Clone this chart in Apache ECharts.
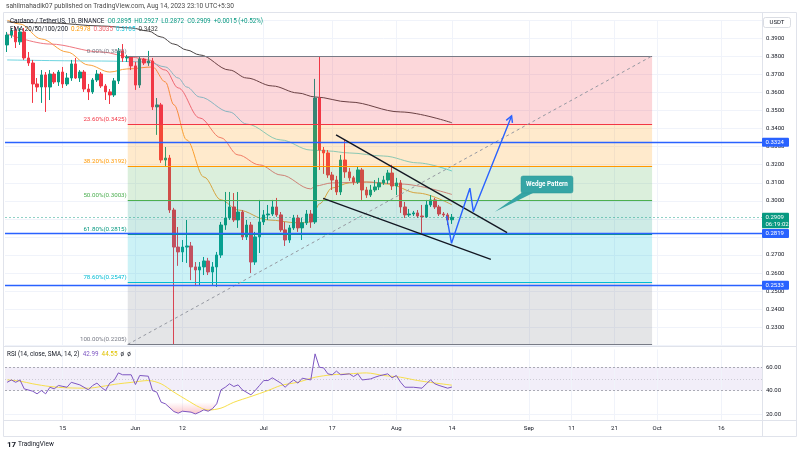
<!DOCTYPE html>
<html><head><meta charset="utf-8">
<script src="https://cdn.jsdelivr.net/npm/echarts/dist/echarts.min.js"></script>
<style>html,body{margin:0;padding:0;background:#fff}#c{width:800px;height:453px}</style>
</head><body><div id="c"></div>
<script>
// ---------- DATA ----------
const startDay = [2023, 4, 2];          // 2023-05-02 (first candle)
const dayCount = 177;                   // visible days on the time axis
const tickDates = ['2023-05-15','2023-06-01','2023-06-12','2023-07-01','2023-07-17','2023-08-01','2023-08-14','2023-09-01','2023-09-11','2023-09-21','2023-10-01','2023-10-16'];
const tickLabels = ['15','Jun','12','Jul','17','Aug','14','Sep','11','21','Oct','16'];

// daily candles [open, high, low, close] from 2023-05-02 to 2023-08-14
const candles = [
 [0.3863,0.3935,0.3824,0.3918],[0.3918,0.3957,0.3902,0.3940],[0.3940,0.3963,0.3846,0.3880],[0.3880,0.3957,0.3863,0.3935],
 [0.3935,0.3957,0.3780,0.3791],[0.3791,0.3824,0.3747,0.3763],[0.3763,0.3780,0.3542,0.3647],[0.3647,0.3680,0.3603,0.3630],
 [0.3630,0.3724,0.3542,0.3697],[0.3697,0.3713,0.3492,0.3630],[0.3630,0.3724,0.3558,0.3702],[0.3702,0.3713,0.3647,0.3658],
 [0.3658,0.3724,0.3636,0.3713],[0.3713,0.3741,0.3625,0.3647],[0.3647,0.3708,0.3636,0.3680],[0.3680,0.3780,0.3664,0.3758],
 [0.3758,0.3791,0.3675,0.3680],[0.3680,0.3724,0.3658,0.3713],[0.3713,0.3724,0.3603,0.3619],[0.3619,0.3647,0.3558,0.3603],
 [0.3603,0.3680,0.3592,0.3669],[0.3669,0.3724,0.3658,0.3702],[0.3702,0.3713,0.3625,0.3636],[0.3636,0.3647,0.3558,0.3603],
 [0.3603,0.3619,0.3536,0.3586],[0.3586,0.3680,0.3575,0.3664],[0.3664,0.3846,0.3647,0.3830],[0.3830,0.3868,0.3769,0.3791],
 [0.3791,0.3808,0.3769,0.3796],[0.3796,0.3802,0.3724,0.3747],
 // June
 [0.3747,0.3769,0.3614,0.3641],[0.3641,0.3796,0.3625,0.3785],[0.3785,0.3791,0.3752,0.3763],[0.3763,0.3830,0.3747,0.3774],
 [0.3774,0.3791,0.3503,0.3520],[0.3520,0.3569,0.3365,0.3531],[0.3531,0.3542,0.3210,0.3226],[0.3226,0.3298,0.3188,0.3237],
 [0.3237,0.3254,0.2933,0.2949],[0.2949,0.2961,0.2205,0.2744],[0.2744,0.2855,0.2640,0.2717],[0.2717,0.2783,0.2661,0.2744],
 [0.2744,0.2894,0.2656,0.2750],[0.2750,0.2772,0.2561,0.2634],[0.2634,0.2661,0.2528,0.2617],[0.2617,0.2661,0.2528,0.2634],
 [0.2634,0.2689,0.2589,0.2667],[0.2667,0.2684,0.2589,0.2606],[0.2606,0.2661,0.2534,0.2634],[0.2634,0.2717,0.2523,0.2700],
 [0.2700,0.2883,0.2684,0.2866],[0.2866,0.3049,0.2839,0.2905],[0.2905,0.3049,0.2894,0.2966],[0.2966,0.3043,0.2883,0.2894],
 [0.2894,0.3049,0.2850,0.2938],[0.2938,0.2949,0.2783,0.2800],[0.2800,0.2894,0.2783,0.2866],[0.2866,0.2883,0.2600,0.2661],
 [0.2661,0.2828,0.2645,0.2800],[0.2800,0.3005,0.2711,0.2883],
 // July
 [0.2883,0.2949,0.2866,0.2922],[0.2922,0.2977,0.2894,0.2927],[0.2927,0.3005,0.2916,0.2966],[0.2966,0.3016,0.2911,0.2922],
 [0.2922,0.2938,0.2828,0.2839],[0.2839,0.2883,0.2750,0.2783],[0.2783,0.2866,0.2767,0.2850],[0.2850,0.2922,0.2839,0.2905],
 [0.2905,0.2922,0.2828,0.2850],[0.2850,0.2905,0.2783,0.2878],[0.2878,0.2949,0.2866,0.2927],[0.2927,0.2949,0.2850,0.2883],
 [0.2883,0.3675,0.2872,0.3569],[0.3569,0.3796,0.3171,0.3281],[0.3281,0.3298,0.3149,0.3265],[0.3265,0.3281,0.3127,0.3143],
 [0.3143,0.3160,0.3060,0.3115],[0.3115,0.3138,0.3032,0.3049],[0.3049,0.3254,0.3032,0.3226],[0.3226,0.3337,0.3127,0.3160],
 [0.3160,0.3182,0.3110,0.3127],[0.3127,0.3138,0.3088,0.3104],[0.3104,0.3188,0.3093,0.3171],[0.3171,0.3182,0.3005,0.3060],
 [0.3060,0.3077,0.3016,0.3032],[0.3032,0.3088,0.3021,0.3060],[0.3060,0.3115,0.3049,0.3077],[0.3077,0.3127,0.3060,0.3099],
 [0.3099,0.3138,0.3088,0.3115],[0.3115,0.3171,0.3093,0.3154],[0.3154,0.3199,0.3060,0.3082],
 // August
 [0.3082,0.3127,0.3032,0.3099],[0.3099,0.3115,0.2933,0.2966],[0.2966,0.2994,0.2905,0.2922],[0.2922,0.2955,0.2911,0.2927],
 [0.2927,0.2944,0.2916,0.2933],[0.2933,0.2949,0.2905,0.2916],[0.2916,0.2977,0.2822,0.2911],[0.2911,0.3005,0.2905,0.2977],
 [0.2977,0.3032,0.2966,0.3005],[0.3005,0.3016,0.2955,0.2966],[0.2966,0.2977,0.2916,0.2927],[0.2927,0.2938,0.2911,0.2922],
 [0.2922,0.2933,0.2866,0.2894],[0.2895,0.2927,0.2872,0.2909]
];

// EMA readings [dayIndex, value]
const ema20 = [[0,0.4001],[3,0.3979],[8,0.3896],[14,0.3824],[19,0.3752],[24,0.3713],[28,0.3730],[34,0.3741],[37,0.3658],[39,0.3531],[42,0.3337],[46,0.3132],[50,0.3005],[54,0.2949],[61,0.2894],[68,0.2878],[71,0.2883],[72,0.2949],[73,0.2983],[76,0.3071],[80,0.3099],[84,0.3104],[89,0.3093],[96,0.3043],[104,0.2978]];
const ema50 = [[0,0.3924],[10,0.3868],[22,0.3824],[29,0.3796],[33,0.3780],[37,0.3724],[40,0.3625],[45,0.3459],[50,0.3349],[54,0.3254],[59,0.3199],[64,0.3143],[71,0.3066],[72,0.3082],[76,0.3099],[84,0.3104],[92,0.3093],[104,0.3035]];
const ema100 = [[0,0.3780],[22,0.3774],[33,0.3769],[37,0.3741],[40,0.3680],[42,0.3630],[45,0.3575],[52,0.3492],[56,0.3425],[64,0.3337],[71,0.3281],[75,0.3276],[80,0.3265],[88,0.3248],[96,0.3210],[104,0.3165]];
const ema200 = [[0,0.3990],[10,0.3985],[22,0.3968],[29,0.3957],[33,0.3940],[36,0.3907],[39,0.3868],[42,0.3835],[45,0.3808],[52,0.3724],[56,0.3680],[62,0.3636],[68,0.3597],[72,0.3575],[80,0.3547],[92,0.3492],[104,0.3432]];

// RSI readings [dayIndex, value]
const rsi = [[0,47],[1,49],[2,47],[3,49],[4,41.4],[6,39.4],[7,37.2],[8,40],[9,37.2],[10,42.8],[11,41.4],[12,44.3],[14,42.8],[15,47],[17,44.8],[19,40.6],[20,44.3],[21,46.3],[22,42.8],[23,40],[24,46.3],[25,48.5],[26,55],[27,53.4],[29,53.4],[30,45.1],[31,52.8],[33,52.2],[34,40],[35,38.6],[36,30.1],[37,28.7],[39,22.1],[40,20.7],[41,22.4],[43,21.6],[44,20.1],[45,21.6],[46,23.6],[47,22.4],[48,24.5],[49,28.7],[50,40.6],[51,42.8],[52,45.7],[53,43.4],[54,44.8],[55,40.6],[57,36.3],[58,40],[59,44.3],[60,48.5],[61,48.5],[62,50.8],[64,46.3],[65,42.8],[66,46.3],[67,49],[68,46.3],[69,50.5],[71,49],[72,71.2],[73,59.8],[74,59.3],[75,54.2],[76,53.4],[77,56.5],[78,53.4],[80,54.2],[81,51.9],[82,54.2],[83,49],[85,49.9],[86,51.3],[87,52.5],[89,54.2],[90,50.8],[91,52.8],[92,47.1],[93,42.8],[95,42.8],[97,42],[98,45.7],[99,49],[100,45.7],[101,44.3],[103,42],[104,42.99]];
const rsiMa = [[0,49],[3,48],[6,45.7],[10,43.4],[14,42.3],[19,42],[22,43.4],[26,45.7],[29,46.9],[33,48.5],[36,45.7],[39,38.6],[42,32],[45,25.7],[47,23.4],[50,25],[53,30],[57,34.9],[61,40],[64,44.3],[68,47.1],[72,51.3],[76,53.4],[80,54.2],[84,55],[88,52.8],[92,51.3],[96,48.5],[99,46.9],[104,44.55]];

// Fibonacci retracement
const fibStart = 28.2, fibEnd = 150.8;
const fibLevels = ['0.00%','23.60%','38.20%','50.00%','61.80%','78.60%','100.00%'];
const fibPrices = [0.3802,0.3425,0.3192,0.3003,0.2815,0.2547,0.2205];
const fibColors = ['#787b86','#f23645','#ff9800','#4caf50','#089981','#00bcd4','#787b86'];

// horizontal levels and drawings
const hLevels = [0.3324, 0.2819, 0.2533];
const lastPrice = 0.2909, countdown = '06:19:02';
const wedgeUpper = [[76.9,0.3365],[116.9,0.2824]];
const wedgeLower = [[73.9,0.3014],[113.1,0.2676]];
const bluePath = [[102.75,0.2916],[103.9,0.2765],[108.2,0.3070],[109.0,0.2940],[117.95,0.3470]];
const callout = {text:'Wedge Pattern', box:[[120.15,0.31375],[132.3,0.3043]], tip:[114.06,0.2940]};

// legend texts
const header = 'sahilmahadik07 published on TradingView.com, Aug 14, 2023 23:10 UTC+5:30';
const symbolName = 'Cardano / TetherUS, 1D, BINANCE';
const ohlcText = ['O0.2895','H0.2927','L0.2872','C0.2909','+0.0015 (+0.52%)'];
const emaName = 'EMA 20/50/100/200';
const emaValues = ['0.2978','0.3035','0.3165','0.3432'];
const emaColors = ['#ff9800','#f0616b','#26c6da','#3a3a3a'];
const rsiName = 'RSI (14, close, SMA, 14, 2)';
const rsiValues = ['42.99','44.55'];

// ---------- CHART ----------
const FONT = 'Roboto, "Liberation Sans", Arial, sans-serif';
const GREEN = '#089981', RED = '#f23645', BLUE = '#2962ff';
const rgba = (hex,a)=>{const n=parseInt(hex.slice(1),16);return `rgba(${n>>16&255},${n>>8&255},${n&255},${a})`;};

const categories = [];
for (let k=0;k<dayCount;k++){ categories.push(new Date(Date.UTC(startDay[0],startDay[1],startDay[2]+k)).toISOString().slice(0,10)); }
const tickIdx = tickDates.map(d=>categories.indexOf(d));
const candleData = candles.map(r=>[r[0],r[3],r[2],r[1]]);
const X0 = -0.5, X1 = dayCount-0.5;

const chart = echarts.init(document.getElementById('c'));
const gridDefs = {left:5, right:38, outerBoundsMode:'none', containLabel:false};
const hl = (y, style)=>[{coord:[X0,y], lineStyle:style},{coord:[X1,y]}];

const option = {
  animation:false,
  backgroundColor:'#ffffff',
  textStyle:{fontFamily:FONT},
  grid:[
    Object.assign({top:20.2, height:325.1}, gridDefs),
    Object.assign({top:349.4, height:70.5}, gridDefs)
  ],
  xAxis:[
    {type:'category', gridIndex:0, data:categories, boundaryGap:true, axisLine:{show:false}, axisTick:{show:false}, axisLabel:{show:false}, splitLine:{show:false}},
    {type:'value', gridIndex:0, min:X0, max:X1, show:false, splitLine:{show:false}},
    {type:'category', gridIndex:1, data:categories, boundaryGap:true, axisLine:{show:false}, axisTick:{show:false}, splitLine:{show:false},
      axisLabel:{interval:(i)=>tickIdx.indexOf(i)>=0, formatter:(v)=>{const k=tickDates.indexOf(v);return k>=0?tickLabels[k]:'';}, fontSize:6, color:'#131722', margin:6, fontFamily:FONT}},
    {type:'value', gridIndex:1, min:X0, max:X1, show:false, splitLine:{show:false}}
  ],
  yAxis:[
    {type:'value', gridIndex:0, position:'right', min:0.22, max:0.40, interval:0.01,
      axisLine:{show:false}, axisTick:{show:false},
      axisLabel:{formatter:(v)=>(v>0.225&&v<0.395)?v.toFixed(4):'', fontSize:6, color:'#131722', margin:4, fontFamily:FONT},
      splitLine:{show:true, lineStyle:{color:'#f0f3fa', width:1}}},
    {type:'value', gridIndex:1, position:'right', min:15, max:75, interval:5,
      axisLine:{show:false}, axisTick:{show:false},
      axisLabel:{formatter:(v)=>{const r=Math.round(v);return (Math.abs(v-r)<1e-6&&(r===20||r===40||r===60))?r.toFixed(2):'';}, fontSize:6, color:'#131722', margin:4, fontFamily:FONT},
      splitLine:{show:false}}
  ],
  series:[
    {type:'line', xAxisIndex:1, yAxisIndex:0, data:[], silent:true,
      markLine:{silent:true, z:1, symbol:'none', precision:6, label:{show:false}, lineStyle:{color:'#f0f3fa', width:1, type:'solid'}, data:tickIdx.map(i=>[{coord:[i,0.22]},{coord:[i,0.40]}])}},
    {type:'line', xAxisIndex:3, yAxisIndex:1, data:[], silent:true,
      markArea:{silent:true, z:1, itemStyle:{color:'rgba(126,87,194,0.1)'}, data:[[{coord:[X0,40]},{coord:[X1,60]}]]},
      markLine:{silent:true, z:1, symbol:'none', precision:6, label:{show:false}, data:[
        ...tickIdx.map(i=>[{coord:[i,15], lineStyle:{color:'#f0f3fa', width:1, type:'solid'}},{coord:[i,75]}]),
        hl(20,{color:'#f0f3fa', width:1, type:'solid'}),
        hl(60,{color:'rgba(120,123,134,0.6)', width:1, type:[2,2]}),
        hl(50,{color:'rgba(120,123,134,0.3)', width:1, type:[1,2]}),
        hl(40,{color:'rgba(120,123,134,0.6)', width:1, type:[2,2]})
      ]}},
    ...[ema20,ema50,ema100,ema200].map((d,k)=>({type:'line', xAxisIndex:1, yAxisIndex:0, data:d, smooth:0.35, smoothMonotone:'x', symbol:'none', showSymbol:false, silent:true, z:2,
        lineStyle:{color:['#f9a23c','#ef7780','#6fd5e0','#4a4444'][k], width:1}})),
    {type:'candlestick', xAxisIndex:0, yAxisIndex:0, data:candleData, barWidth:3, z:3, silent:true,
      itemStyle:{color:GREEN, color0:RED, borderColor:GREEN, borderColor0:RED, borderWidth:1}},
    {type:'line', xAxisIndex:1, yAxisIndex:0, data:[], silent:true, z:4,
      markArea:{silent:true, z:4, data:fibPrices.slice(0,-1).map((p,k)=>[{coord:[fibStart,p], itemStyle:{color:rgba(fibColors[k+1],0.2)}},{coord:[fibEnd,fibPrices[k+1]]}])},
      markLine:{silent:true, z:5, symbol:'none', precision:6, label:{show:false}, data:[
        ...fibPrices.map((p,k)=>[{coord:[fibStart,p], lineStyle:{color:fibColors[k], width:1.2, type:'solid'}},{coord:[fibEnd,p]}]),
        [{coord:[fibStart,fibPrices[6]], lineStyle:{color:'#9598a1', width:1, type:[3,3]}},{coord:[fibEnd,fibPrices[0]]}]
      ]}},
    {type:'line', xAxisIndex:1, yAxisIndex:0, data:[], silent:true, z:6,
      markLine:{silent:true, z:6, symbol:'none', precision:6, label:{show:false}, data:[
        ...hLevels.map(p=>hl(p,{color:BLUE, width:1.3, type:'solid'})),
        hl(lastPrice,{color:'rgba(8,153,129,0.45)', width:1, type:[2,2]}),
        [{coord:wedgeUpper[0], lineStyle:{color:'#131722', width:1.3, type:'solid'}},{coord:wedgeUpper[1]}],
        [{coord:wedgeLower[0], lineStyle:{color:'#131722', width:1.3, type:'solid'}},{coord:wedgeLower[1]}]
      ]}},
    {type:'line', xAxisIndex:1, yAxisIndex:0, data:bluePath, symbol:'none', showSymbol:false, silent:true, z:7,
      lineStyle:{color:BLUE, width:1.4}},
    {type:'line', xAxisIndex:3, yAxisIndex:1, data:rsi.map(([i,v])=>[i,Math.min(v,30)]), symbol:'none', showSymbol:false, silent:true, z:2,
      lineStyle:{width:0, opacity:0},
      areaStyle:{origin:30, color:new echarts.graphic.LinearGradient(0,0,0,1,[{offset:0,color:'rgba(242,54,69,0)'},{offset:1,color:'rgba(242,54,69,0.4)'}])}},
    {type:'line', xAxisIndex:3, yAxisIndex:1, data:rsiMa, smooth:0.3, symbol:'none', showSymbol:false, silent:true, z:3, lineStyle:{color:'#f7df4b', width:1}},
    {type:'line', xAxisIndex:3, yAxisIndex:1, data:rsi, symbol:'none', showSymbol:false, silent:true, z:4, lineStyle:{color:'#7e57c2', width:1}}
  ]
};
chart.setOption(option);

// ---------- overlays positioned through the chart's own scales ----------
const P = (pt)=>chart.convertToPixel({xAxisIndex:1, yAxisIndex:0}, pt);
const Y = (p)=>chart.convertToPixel({yAxisIndex:0}, p);
const els = [];
const f = (s)=>s+'px '+FONT;
const line = (x1,y1,x2,y2,c)=>({type:'line', shape:{x1,y1,x2,y2}, style:{stroke:c||'#e0e3eb', lineWidth:1}, z:40, silent:true});

els.push({type:'rect', shape:{x:3.5, y:12.5, width:793, height:424}, style:{fill:'none', stroke:'#e0e3eb', lineWidth:1}, z:40, silent:true});
els.push(line(762.5,12.5,762.5,436.5));
els.push(line(3.5,346.5,796.5,346.5));
els.push(line(3.5,420.5,796.5,420.5));

fibPrices.forEach((p,k)=>{const [x,y]=P([fibStart,p]); els.push({type:'text', x:x-1, y:y-5, style:{text:fibLevels[k]+'('+p.toFixed(4)+')', fill:fibColors[k], font:f(6.2), align:'right', verticalAlign:'middle'}, z:45, silent:true});});

{const y=Y(lastPrice); els.push({type:'rect', shape:{x:762, y:y-4.6, width:27, height:15.6, r:1}, style:{fill:GREEN}, z:50, silent:true});
 els.push({type:'text', x:765.5, y:y, style:{text:lastPrice.toFixed(4), fill:'#fff', font:f(6), verticalAlign:'middle'}, z:51, silent:true});
 els.push({type:'text', x:765.5, y:y+7, style:{text:countdown, fill:'#fff', font:f(6), verticalAlign:'middle'}, z:51, silent:true});}
hLevels.forEach(p=>{const y=Y(p); els.push({type:'rect', shape:{x:762, y:y-4.5, width:27, height:9, r:1}, style:{fill:BLUE}, z:52, silent:true});
  els.push({type:'text', x:765.5, y:y, style:{text:p.toFixed(4), fill:'#fff', font:f(6), verticalAlign:'middle'}, z:53, silent:true});});

{const e=P(bluePath[bluePath.length-1]), s=P(bluePath[bluePath.length-2]);
 const dx=e[0]-s[0], dy=e[1]-s[1], L=Math.hypot(dx,dy), ux=dx/L, uy=dy/L, a=0.5, len=7;
 const w1=[e[0]-len*(ux*Math.cos(a)-uy*Math.sin(a)), e[1]-len*(uy*Math.cos(a)+ux*Math.sin(a))];
 const w2=[e[0]-len*(ux*Math.cos(a)+uy*Math.sin(a)), e[1]-len*(uy*Math.cos(a)-ux*Math.sin(a))];
 els.push({type:'polyline', shape:{points:[w1,e,w2]}, style:{stroke:BLUE, lineWidth:1.4, fill:'none'}, z:46, silent:true});}

{const a=P(callout.box[0]), b=P(callout.box[1]), t=P(callout.tip);
 els.push({type:'polygon', shape:{points:[[a[0]+1,b[1]-0.5],[a[0]+13,b[1]-0.5],t]}, style:{fill:'#36a5a5'}, z:46, silent:true});
 els.push({type:'rect', shape:{x:a[0], y:a[1], width:b[0]-a[0], height:b[1]-a[1], r:2}, style:{fill:'#36a5a5', stroke:'#2c9696', lineWidth:0.5}, z:47, silent:true});
 els.push({type:'text', x:(a[0]+b[0])/2, y:(a[1]+b[1])/2, style:{text:callout.text, fill:'#fff', font:'bold '+f(6.3), align:'center', verticalAlign:'middle'}, z:48, silent:true});}

els.push({type:'text', x:6, y:6.5, style:{text:header, fill:'#4a4a4a', font:f(6.6), verticalAlign:'middle'}, z:55, silent:true});
els.push({type:'text', x:10, y:21, style:{text:'{d|'+symbolName+'}  '+ohlcText.map(s=>'{g|'+s+'}').join('  '), font:f(6.3), verticalAlign:'middle',
  rich:{d:{fill:'#131722', font:f(6.3)}, g:{fill:GREEN, font:f(6.3)}}}, z:55, silent:true});
els.push({type:'text', x:10, y:29.5, style:{text:'{d|'+emaName+'}  '+emaValues.map((s,k)=>'{e'+k+'|'+s+'}').join('  '), font:f(6.3), verticalAlign:'middle',
  rich:{d:{fill:'#131722', font:f(6.3)}, e0:{fill:emaColors[0], font:f(6.3)}, e1:{fill:emaColors[1], font:f(6.3)}, e2:{fill:emaColors[2], font:f(6.3)}, e3:{fill:emaColors[3], font:f(6.3)}}}, z:55, silent:true});
els.push({type:'text', x:7, y:354, style:{text:'{d|'+rsiName+'}  {p|'+rsiValues[0]+'}  {y|'+rsiValues[1]+'}  {d|ø}  {d|ø}', font:f(6.3), verticalAlign:'middle',
  rich:{d:{fill:'#131722', font:f(6.3)}, p:{fill:'#7e57c2', font:f(6.3)}, y:{fill:'#e0c200', font:f(6.3)}}}, z:55, silent:true});

els.push({type:'rect', shape:{x:763.5, y:17.5, width:27, height:10, r:2}, style:{fill:'#fff', stroke:'#d1d4dc', lineWidth:0.8}, z:55, silent:true});
els.push({type:'text', x:777, y:22.5, style:{text:'USDT', fill:'#131722', font:f(6), align:'center', verticalAlign:'middle'}, z:56, silent:true});

els.push({type:'text', x:7, y:444.5, style:{text:'17', fill:'#131722', font:'bold '+f(8), verticalAlign:'middle'}, z:55, silent:true});
els.push({type:'text', x:18, y:444.5, style:{text:'TradingView', fill:'#131722', font:f(6.5), verticalAlign:'middle'}, z:55, silent:true});

chart.setOption({graphic:els});
</script></body></html>
